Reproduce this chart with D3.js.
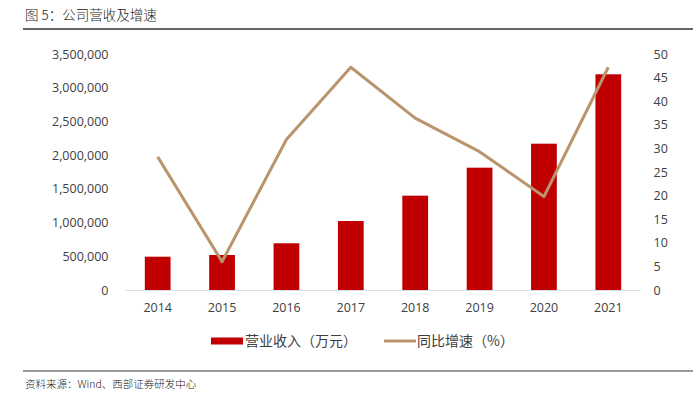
<!DOCTYPE html>
<html>
<head>
<meta charset="utf-8">
<script src="https://cdnjs.cloudflare.com/ajax/libs/d3/7.8.5/d3.min.js"></script>
<style>
  body { margin: 0; background: #fff; }
  svg { display: block; }
</style>
</head>
<body>
<svg id="chart" width="693" height="396"></svg>
<script>
// chart data
const YEARS = ['2014', '2015', '2016', '2017', '2018', '2019', '2020', '2021'];
const REVENUE = [494000, 519000, 693000, 1023000, 1399000, 1814000, 2170000, 3199000];
const GROWTH = [28.2, 6.0, 31.9, 47.2, 36.4, 29.3, 19.8, 47.2];
const LEFT_TICKS = [0, 500000, 1000000, 1500000, 2000000, 2500000, 3000000, 3500000];
const RIGHT_TICKS = [0, 5, 10, 15, 20, 25, 30, 35, 40, 45, 50];

const TITLE = '图 5：公司营收及增速';
const SOURCE = '资料来源：Wind、西部证券研发中心';
const LEGEND = ['营业收入（万元）', '同比增速（%）'];

const CJK = '"Noto Sans CJK SC", "Noto Sans", sans-serif';
const NUM = '"Open Sans", "Noto Sans", sans-serif';

const box = { left: 125.5, right: 640.5, top: 54, bottom: 290 };

const svg = d3.select('#chart');

// title and rules
svg.append('text')
	.attr('x', 25).attr('y', 20)
	.style('font-family', CJK).style('font-size', '13.5px')
	.style('font-weight', 300)
	.style('fill', '#222')
	.text(TITLE);

svg.append('line')
	.attr('x1', 23).attr('x2', 693).attr('y1', 29).attr('y2', 29)
	.style('stroke', '#333').style('stroke-width', 1.3);

svg.append('line')
	.attr('x1', 23).attr('x2', 693).attr('y1', 371).attr('y2', 371)
	.style('stroke', '#999').style('stroke-width', 2);

svg.append('text')
	.attr('x', 25).attr('y', 388)
	.style('font-family', CJK).style('font-size', '10.5px')
	.style('font-weight', 300)
	.style('fill', '#222')
	.text(SOURCE);

// scales
const x = d3.scaleBand()
	.domain(YEARS)
	.range([box.left, box.right])
	.paddingInner(0.6)
	.paddingOuter(0.3);

const xc = d => x(d) + x.bandwidth() / 2;

const yL = d3.scaleLinear().domain([0, 3500000]).range([box.bottom, box.top]);
const yR = d3.scaleLinear().domain([0, 50]).range([box.bottom, box.top]);

// bars
svg.append('g').selectAll('rect')
	.data(YEARS)
	.enter().append('rect')
	.attr('x', d => x(d))
	.attr('y', (d, i) => yL(REVENUE[i]))
	.attr('width', x.bandwidth())
	.attr('height', (d, i) => yL(0) - yL(REVENUE[i]))
	.style('fill', '#C00000');

// x axis line
svg.append('line')
	.attr('x1', box.left).attr('x2', box.right)
	.attr('y1', box.bottom + 0.5).attr('y2', box.bottom + 0.5)
	.style('stroke', '#D9DEE8').style('stroke-width', 1.2);

// line series
const line = d3.line()
	.x((d, i) => xc(YEARS[i]))
	.y(d => yR(d));

svg.append('path')
	.datum(GROWTH)
	.attr('d', line)
	.style('fill', 'none')
	.style('stroke', '#B9946C')
	.style('stroke-width', 3)
	.style('stroke-linejoin', 'round');

// axes
const fmt = d3.format(',');

const axL = svg.append('g')
	.attr('transform', 'translate(' + (box.left - 4) + ',0)')
	.call(d3.axisLeft(yL).tickValues(LEFT_TICKS).tickFormat(fmt).tickSize(0).tickPadding(13));

const axR = svg.append('g')
	.attr('transform', 'translate(' + (box.right) + ',0)')
	.call(d3.axisRight(yR).tickValues(RIGHT_TICKS).tickSize(0).tickPadding(13));

const axX = svg.append('g')
	.attr('transform', 'translate(0,' + box.bottom + ')')
	.call(d3.axisBottom(x).tickSize(0).tickPadding(13));

[axL, axR, axX].forEach(ax => {
	ax.select('.domain').remove();
	ax.selectAll('text')
		.style('font-family', NUM)
		.style('font-size', '12.5px')
		.style('fill', '#404040');
});

// legend
const lg = svg.append('g');
lg.append('rect')
	.attr('x', 211).attr('y', 337.5).attr('width', 32).attr('height', 7)
	.style('fill', '#C00000');
lg.append('text')
	.attr('x', 245).attr('y', 346)
	.style('font-family', CJK).style('font-size', '14px').style('fill', '#404040')
	.text(LEGEND[0]);
lg.append('line')
	.attr('x1', 384).attr('x2', 416).attr('y1', 341).attr('y2', 341)
	.style('stroke', '#B9946C').style('stroke-width', 3);
lg.append('text')
	.attr('x', 417).attr('y', 346)
	.style('font-family', CJK).style('font-size', '14px').style('fill', '#404040')
	.text(LEGEND[1]);
</script>
</body>
</html>
